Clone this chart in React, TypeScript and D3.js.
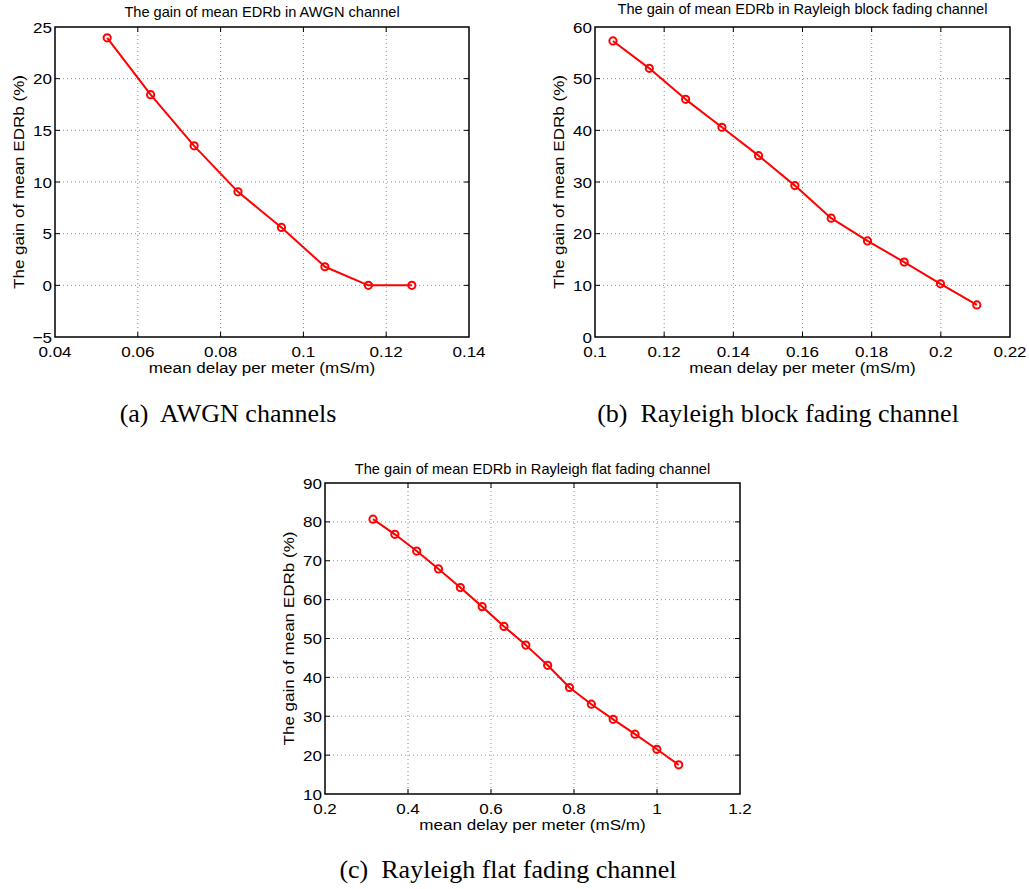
import React from "react";
import * as d3 from "d3";

// ---------- data ----------
const awgnX = [0.0526, 0.0631, 0.0736, 0.0842, 0.0947, 0.1052, 0.1157, 0.1262];
const awgnY = [23.95, 18.45, 13.5, 9.05, 5.6, 1.8, 0, 0];

const blockX = [0.1052, 0.1157, 0.1262, 0.1367, 0.1473, 0.1578, 0.1683, 0.1788, 0.1894, 0.1999, 0.2104];
const blockY = [57.3, 52.0, 46.0, 40.6, 35.1, 29.3, 23.0, 18.6, 14.5, 10.3, 6.2];

const flatX = [0.3157, 0.3683, 0.4209, 0.4735, 0.5261, 0.5787, 0.6313, 0.6839, 0.7365, 0.7891, 0.8418, 0.8944, 0.947, 0.9996, 1.0522];
const flatY = [80.7, 76.8, 72.5, 67.9, 63.1, 58.2, 53.1, 48.3, 43.1, 37.4, 33.1, 29.2, 25.4, 21.5, 17.5];

const awgnXTicks = [0.04, 0.06, 0.08, 0.1, 0.12, 0.14];
const awgnYTicks = [-5, 0, 5, 10, 15, 20, 25];
const blockXTicks = [0.1, 0.12, 0.14, 0.16, 0.18, 0.2, 0.22];
const blockYTicks = [0, 10, 20, 30, 40, 50, 60];
const flatXTicks = [0.2, 0.4, 0.6, 0.8, 1, 1.2];
const flatYTicks = [10, 20, 30, 40, 50, 60, 70, 80, 90];

const xLabel = "mean delay per meter (mS/m)";
const yLabel = "The gain of mean EDRb (%)";

const titles = [
  "The gain of mean EDRb in AWGN channel",
  "The gain of mean EDRb in Rayleigh block fading channel",
  "The gain of mean EDRb in Rayleigh flat fading channel",
];
const captions = [
  "(a)  AWGN channels",
  "(b)  Rayleigh block fading channel",
  "(c)  Rayleigh flat fading channel",
];

// ---------- layout ----------
const W = 1029;
const H = 889;
const SANS = "'Liberation Sans', Arial, Helvetica, sans-serif";
const SERIF = "'Liberation Serif', 'Times New Roman', serif";
const LABEL_FS = 15.5;
const LABEL_SX = 1.1;

const fmt = (v: number) => {
  const s = String(+v.toFixed(10));
  return v < 0 ? "\u2212" + s.slice(1) : s;
};

type PanelProps = {
  box: { left: number; right: number; top: number; bottom: number };
  xs: number[];
  ys: number[];
  xTicks: number[];
  yTicks: number[];
  title: string;
  titleOffset: number;
  caption: string;
  captionX: number;
  captionY: number;
};

function SText({ x, y, anchor, rotate = 0, children, size = LABEL_FS, sx = LABEL_SX, baseline }: any) {
  return (
    <text
      transform={`translate(${x},${y}) rotate(${rotate}) scale(${sx},1)`}
      textAnchor={anchor}
      fontFamily={SANS}
      fontSize={size}
      dominantBaseline={baseline}
      fill="#000"
    >
      {children}
    </text>
  );
}

function Panel(p: PanelProps) {
  const { left, right, top, bottom } = p.box;
  const x = d3.scaleLinear().domain(d3.extent(p.xTicks) as [number, number]).range([left, right]);
  const y = d3.scaleLinear().domain(d3.extent(p.yTicks) as [number, number]).range([bottom, top]);
  const line = d3
    .line<number>()
    .x((_, i) => x(p.xs[i]))
    .y((d) => y(d));
  const tl = 5;
  const innerX = p.xTicks.slice(1, -1);
  const innerY = p.yTicks.slice(1, -1);
  return (
    <g>
      {/* grid */}
      {innerX.map((t) => (
        <line key={"gx" + t} x1={x(t)} x2={x(t)} y1={top} y2={bottom} stroke="#8c8c8c" strokeWidth={1} strokeDasharray="1,3" />
      ))}
      {innerY.map((t) => (
        <line key={"gy" + t} x1={left} x2={right} y1={y(t)} y2={y(t)} stroke="#8c8c8c" strokeWidth={1} strokeDasharray="1,3" />
      ))}
      {/* ticks */}
      {innerX.map((t) => (
        <g key={"tx" + t}>
          <line x1={x(t)} x2={x(t)} y1={bottom} y2={bottom - tl} stroke="#000" strokeWidth={1} />
          <line x1={x(t)} x2={x(t)} y1={top} y2={top + tl} stroke="#000" strokeWidth={1} />
        </g>
      ))}
      {innerY.map((t) => (
        <g key={"ty" + t}>
          <line x1={left} x2={left + tl} y1={y(t)} y2={y(t)} stroke="#000" strokeWidth={1} />
          <line x1={right} x2={right - tl} y1={y(t)} y2={y(t)} stroke="#000" strokeWidth={1} />
        </g>
      ))}
      {/* box */}
      <rect x={left} y={top} width={right - left} height={bottom - top} fill="none" stroke="#000" strokeWidth={1.5} />
      {/* tick labels */}
      {p.xTicks.map((t) => (
        <SText key={"lx" + t} x={x(t)} y={bottom + 20} anchor="middle">
          {fmt(t)}
        </SText>
      ))}
      {p.yTicks.map((t) => (
        <SText key={"ly" + t} x={left - 3} y={y(t) + 5.5} anchor="end">
          {fmt(t)}
        </SText>
      ))}
      {/* data */}
      <path d={line(p.ys) || ""} fill="none" stroke="#ff0000" strokeWidth={2} strokeLinejoin="round" />
      {p.ys.map((v, i) => (
        <circle key={"m" + i} cx={x(p.xs[i])} cy={y(v)} r={3.6} fill="none" stroke="#ff0000" strokeWidth={2} />
      ))}
      {/* labels */}
      <SText x={(left + right) / 2} y={bottom + 36} anchor="middle">
        {xLabel}
      </SText>
      <SText x={left - 31} y={(top + bottom) / 2} anchor="middle" rotate={-90}>
        {yLabel}
      </SText>
      <SText x={(left + right) / 2} y={top - p.titleOffset} anchor="middle" size={14.6} sx={1}>
        {p.title}
      </SText>
      <text
        x={p.captionX}
        y={p.captionY}
        textAnchor="middle"
        fontFamily={SERIF}
        fontSize={26}
        fill="#000"
        style={{ whiteSpace: "pre" }}
      >
        {p.caption}
      </text>
    </g>
  );
}

export default function App() {
  return (
    <svg
      width={W}
      height={H}
      viewBox={`0 0 ${W} ${H}`}
      style={{ position: "absolute", left: 0, top: 0, background: "#fff" }}
    >
      <rect width={W} height={H} fill="#fff" />
      <Panel
        box={{ left: 55, right: 469, top: 27, bottom: 337 }}
        xs={awgnX}
        ys={awgnY}
        xTicks={awgnXTicks}
        yTicks={awgnYTicks}
        title={titles[0]}
        titleOffset={10.5}
        caption={captions[0]}
        captionX={228}
        captionY={422}
      />
      <Panel
        box={{ left: 595, right: 1010, top: 27, bottom: 337 }}
        xs={blockX}
        ys={blockY}
        xTicks={blockXTicks}
        yTicks={blockYTicks}
        title={titles[1]}
        titleOffset={13.5}
        caption={captions[1]}
        captionX={778}
        captionY={422}
      />
      <Panel
        box={{ left: 325, right: 740, top: 483, bottom: 794 }}
        xs={flatX}
        ys={flatY}
        xTicks={flatXTicks}
        yTicks={flatYTicks}
        title={titles[2]}
        titleOffset={9.5}
        caption={captions[2]}
        captionX={508}
        captionY={878}
      />
    </svg>
  );
}
